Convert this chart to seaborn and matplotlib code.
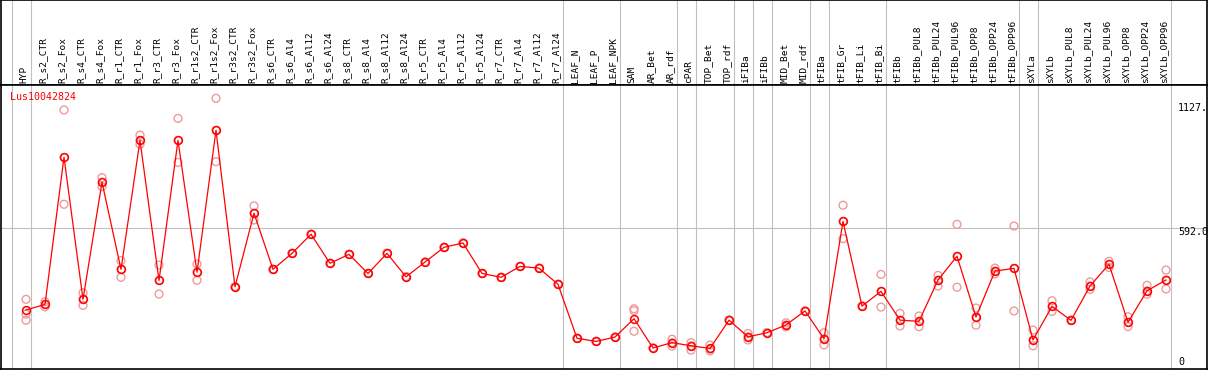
import numpy as np
import pandas as pd
import seaborn as sns
import matplotlib.pyplot as plt
import matplotlib.transforms as mtrans

# sample names along the x axis
samples = ['HYP', 'R_s2_CTR', 'R_s2_Fox', 'R_s4_CTR', 'R_s4_Fox', 'R_r1_CTR', 'R_r1_Fox',
           'R_r3_CTR', 'R_r3_Fox', 'R_r1s2_CTR', 'R_r1s2_Fox', 'R_r3s2_CTR', 'R_r3s2_Fox',
           'R_s6_CTR', 'R_s6_Al4', 'R_s6_Al12', 'R_s6_Al24', 'R_s8_CTR', 'R_s8_Al4',
           'R_s8_Al12', 'R_s8_Al24', 'R_r5_CTR', 'R_r5_Al4', 'R_r5_Al12', 'R_r5_Al24',
           'R_r7_CTR', 'R_r7_Al4', 'R_r7_Al12', 'R_r7_Al24', 'LEAF_N', 'LEAF_P', 'LEAF_NPK',
           'SAM', 'AR_Bet', 'AR_rdf', 'cPAR', 'TOP_Bet', 'TOP_rdf', 'iFIBa', 'iFIBb',
           'MID_Bet', 'MID_rdf', 'tFIBa', 'tFIB_Gr', 'tFIB_Li', 'tFIB_Bi', 'tFIBb',
           'tFIBb_PUL8', 'tFIBb_PUL24', 'tFIBb_PUL96', 'tFIBb_OPP8', 'tFIBb_OPP24',
           'tFIBb_OPP96', 'sXYLa', 'sXYLb', 'sXYLb_PUL8', 'sXYLb_PUL24', 'sXYLb_PUL96',
           'sXYLb_OPP8', 'sXYLb_OPP24', 'sXYLb_OPP96']

# mean expression per sample
mean_expr = [252, 275, 883, 296, 780, 420, 953, 374, 953, 408, 995, 348, 652,
             420, 486, 565, 445, 482, 403, 486, 389, 450, 511, 529, 403,
             387, 432, 425, 358, 135, 122, 140,
             216, 95, 117, 104, 93, 210, 141, 158,
             190, 248, 133, 618, 268, 329, 210,
             205, 376, 474, 223, 413, 424,
             128, 267, 209, 351, 441, 201, 331, 376]

# replicate values (three per sample)
rep_a = [296, 286, 1079, 323, 799, 456, 975, 438, 1044, 442, 1127, 348, 682,
         420, 486, 565, 445, 482, 403, 486, 389, 450, 511, 529, 403,
         387, 432, 425, 358, 135, 122, 140,
         257, 95, 131, 117, 107, 210, 155, 158,
         199, 248, 158, 685, 268, 399, 238,
         227, 395, 606, 260, 425, 599,
         169, 290, 209, 368, 453, 224, 354, 417]
rep_b = [235, 275, 882, 296, 780, 420, 953, 374, 953, 408, 995, 348, 652,
         420, 486, 565, 445, 482, 403, 486, 389, 450, 511, 529, 403,
         387, 432, 425, 358, 135, 122, 140,
         249, 95, 117, 104, 90, 210, 141, 158,
         190, 248, 133, 618, 268, 329, 210,
         205, 376, 474, 223, 413, 424,
         128, 267, 209, 351, 441, 201, 331, 376]
rep_c = [210, 265, 689, 271, 762, 387, 937, 318, 862, 375, 865, 348, 624,
         420, 486, 565, 445, 482, 403, 486, 389, 450, 511, 529, 403,
         387, 432, 425, 358, 135, 122, 140,
         164, 95, 103, 86, 83, 210, 128, 158,
         182, 248, 108, 547, 268, 264, 186,
         183, 351, 346, 189, 401, 248,
         104, 246, 209, 337, 428, 183, 317, 339]

# last sample of each tissue group (-1 = before first sample)
group_ends = [-1, 0, 28, 31, 34, 35, 37, 38, 39, 41, 42, 45, 52, 53, 60]

gene = 'Lus10042824'
tick_vals = [1127, 592.0, 0]
tick_text = ['1127.', '592.0', '0']

idx = np.arange(len(samples))
reps = pd.DataFrame({'idx': np.tile(idx, 3), 'value': rep_a + rep_b + rep_c})

W, H = 1209, 370
fig = plt.figure(figsize=(W / 100, H / 100), dpi=100)
ax_h = fig.add_axes([1 / W, (H - 85) / H, 1206 / W, 85 / H])
ax = fig.add_axes([1 / W, 1 / H, 1206 / W, 284 / H])

xlim = ((1 - 26) / 19, (1207 - 26) / 19)
gray = '#c0c0c0'
mono = 'DejaVu Sans Mono'

# replicates (faint) and mean line
sns.scatterplot(data=reps, x='idx', y='value', ax=ax, marker='o', s=32,
                facecolor='none', edgecolor='#f09a9a', linewidth=1.0, zorder=3, legend=False)
sns.lineplot(x=idx, y=mean_expr, ax=ax, color='red', lw=0.9, marker='o', ms=5.6,
             mfc='none', mec='red', mew=1.1, zorder=4)

for g in group_ends:
    ax.axvline(g + 0.24, color=gray, lw=0.8, zorder=1)
    ax_h.axvline(g + 0.24, color=gray, lw=0.8, zorder=1)
ax.axhline(592, color=gray, lw=0.8, zorder=1)

ax.set_xlim(*xlim)
ax.set_ylim(8, 1182)
ax.set_xticks([])
ax.set_yticks([])
ax.set_xlabel('')
ax.set_ylabel('')

# value labels on the right
for v, t, yc in zip(tick_vals, tick_text, [1085, 575, 38]):
    ax.text(0.976, yc, t, transform=mtrans.blended_transform_factory(ax.transAxes, ax.transData),
            ha='left', va='center', fontsize=7.2, family=mono, color='black')

ax.text(0.0075, 0.958, gene, transform=ax.transAxes, ha='left', va='center',
        fontsize=7.2, family=mono, color='red')

# header with rotated sample names
ax_h.set_xlim(*xlim)
ax_h.set_ylim(0, 1)
ax_h.set_xticks([])
ax_h.set_yticks([])
hx = mtrans.blended_transform_factory(ax_h.transData, ax_h.transAxes)
for i, name in enumerate(samples):
    ax_h.text(i - 0.1, 0.025, name, transform=hx, rotation=90, ha='center', va='bottom',
              fontsize=6.8, family=mono, color='black')

for a in (ax, ax_h):
    for s in a.spines.values():
        s.set_color('black')
        s.set_linewidth(1.2)

fig.savefig('out.png', dpi=100)
